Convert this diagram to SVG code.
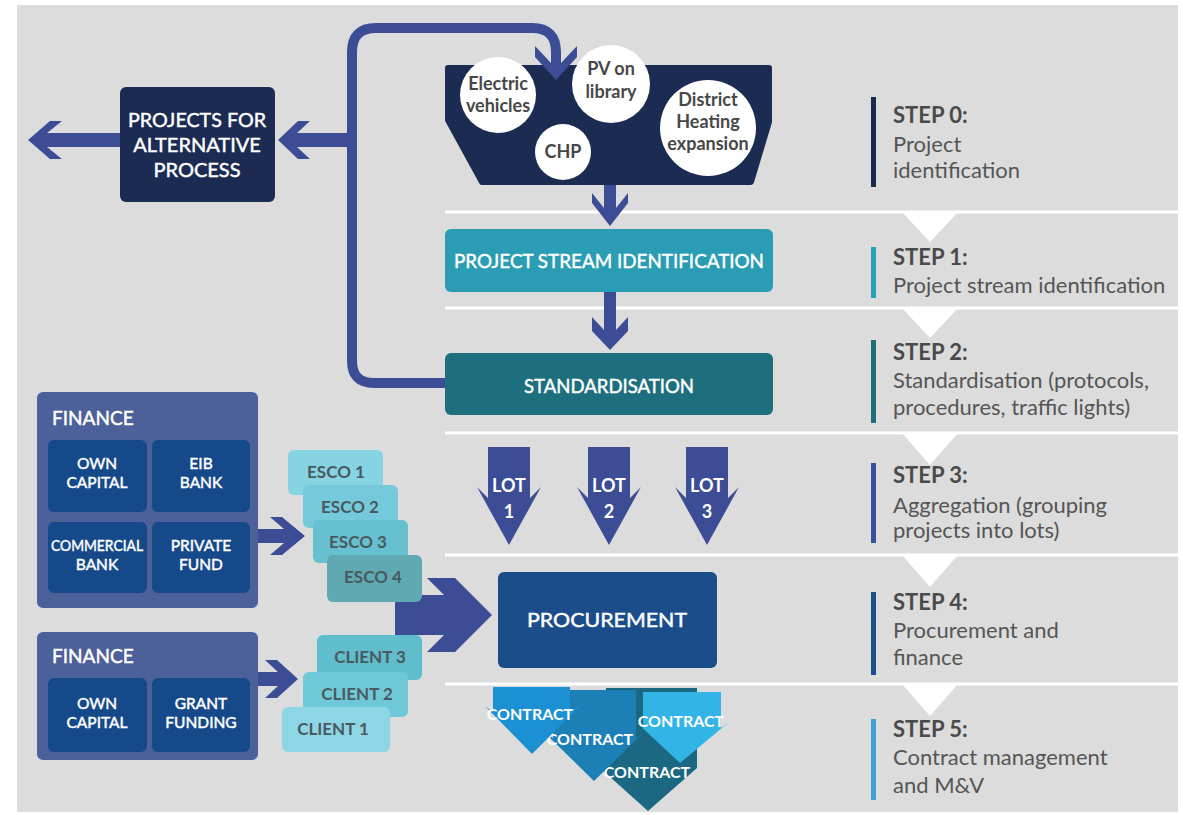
<svg xmlns="http://www.w3.org/2000/svg" width="1183" height="815" viewBox="0 0 1183 815">
  <style>
    text { font-family: "Lato", "Liberation Sans", sans-serif; }
    .arrow { fill: #3c4d95; }
    .loop { fill: none; stroke: #3c4d95; stroke-width: 10; }
    .sep { stroke: #ffffff; stroke-width: 3; }
    .tri { fill: #ffffff; }
    .lbl { fill: #ffffff; stroke: #ffffff; stroke-width: 0.45; font-size: 20px; text-anchor: middle; }
    .circ { fill: #ffffff; }
    .ctxt { fill: #474747; font-size: 18px; font-weight: bold; text-anchor: middle; }
    .stitle { fill: #4a4a4a; font-size: 22px; font-weight: bold; }
    .sdesc { fill: #555555; font-size: 22px; }
    .fin { fill: #4c6099; }
    .fin-in { fill: #15498a; }
    .fintxt { fill: #ffffff; stroke: #ffffff; stroke-width: 0.45; font-size: 15.5px; text-anchor: middle; }
    .fhead { fill: #ffffff; stroke: #ffffff; stroke-width: 0.45; font-size: 19px; }
    .card { fill: #4a5960; font-size: 17px; font-weight: bold; text-anchor: middle; }
    .lot { fill: #ffffff; font-size: 18px; font-weight: bold; text-anchor: middle; }
    .ctr { fill: #ffffff; font-size: 16px; font-weight: bold; text-anchor: middle; }
  </style>

  <!-- canvas -->
  <rect x="0" y="0" width="1183" height="815" fill="#ffffff"/>
  <rect x="17" y="5" width="1161" height="807" fill="#dcdcdc"/>

  <!-- step separators -->
  <g id="separators">
    <line class="sep" x1="445" y1="212" x2="1178" y2="212"/>
    <line class="sep" x1="445" y1="308" x2="1178" y2="308"/>
    <line class="sep" x1="445" y1="433" x2="1178" y2="433"/>
    <line class="sep" x1="445" y1="555" x2="1178" y2="555"/>
    <line class="sep" x1="445" y1="684" x2="1178" y2="684"/>
    <polygon class="tri" points="902,212 958,212 930,242"/>
    <polygon class="tri" points="902,308 958,308 930,338"/>
    <polygon class="tri" points="902,433 958,433 930,465"/>
    <polygon class="tri" points="902,555 958,555 930,587"/>
    <polygon class="tri" points="902,684 958,684 930,716"/>
  </g>

  <!-- step captions -->
  <g id="step0">
    <rect x="871" y="97" width="5" height="90" fill="#1a2a4e"/>
    <text class="stitle" x="893" y="123">STEP 0:</text>
    <text class="sdesc" x="893" y="152">Project</text>
    <text class="sdesc" x="893" y="178">identification</text>
  </g>
  <g id="step1">
    <rect x="871" y="247" width="5" height="51" fill="#2aa0b8"/>
    <text class="stitle" x="893" y="265">STEP 1:</text>
    <text class="sdesc" x="893" y="293">Project stream identification</text>
  </g>
  <g id="step2">
    <rect x="871" y="340" width="5" height="83" fill="#1f6e78"/>
    <text class="stitle" x="893" y="360">STEP 2:</text>
    <text class="sdesc" x="893" y="388">Standardisation (protocols,</text>
    <text class="sdesc" x="893" y="415">procedures, traffic lights)</text>
  </g>
  <g id="step3">
    <rect x="871" y="463" width="5" height="80" fill="#3a4f9a"/>
    <text class="stitle" x="893" y="483">STEP 3:</text>
    <text class="sdesc" x="893" y="513">Aggregation (grouping</text>
    <text class="sdesc" x="893" y="538">projects into lots)</text>
  </g>
  <g id="step4">
    <rect x="871" y="592" width="5" height="83" fill="#1b4f8c"/>
    <text class="stitle" x="893" y="610">STEP 4:</text>
    <text class="sdesc" x="893" y="638">Procurement and</text>
    <text class="sdesc" x="893" y="665">finance</text>
  </g>
  <g id="step5">
    <rect x="871" y="719" width="5" height="81" fill="#3aa0d8"/>
    <text class="stitle" x="893" y="737">STEP 5:</text>
    <text class="sdesc" x="893" y="765">Contract management</text>
    <text class="sdesc" x="893" y="793">and M&amp;V</text>
  </g>

  <!-- project pool -->
  <g id="project-pool">
    <polygon points="448,68 769,68 769,122 751,182 482,182 448,120" fill="#1b2b52" stroke="#1b2b52" stroke-width="6" stroke-linejoin="round"/>
    <circle class="circ" cx="498" cy="95" r="38"/>
    <text class="ctxt" x="498" y="90">Electric</text>
    <text class="ctxt" x="498" y="112">vehicles</text>
    <circle class="circ" cx="611" cy="84" r="39"/>
    <text class="ctxt" x="611" y="75">PV on</text>
    <text class="ctxt" x="611" y="98">library</text>
    <circle class="circ" cx="563" cy="152" r="28"/>
    <text class="ctxt" x="563" y="158">CHP</text>
    <circle class="circ" cx="708" cy="128" r="48"/>
    <text class="ctxt" x="708" y="106">District</text>
    <text class="ctxt" x="708" y="128">Heating</text>
    <text class="ctxt" x="708" y="150">expansion</text>
  </g>

  <!-- connectors -->
  <g id="connectors">
    <!-- return loop from standardisation back to the pool -->
    <path class="loop" d="M445 383 H374 Q352 383 352 361 V52 Q352 28 376 28 H532 Q556 28 556 52 V64"/>
    <polygon class="arrow" points="535,46 551,63 561,63 577,46 577,57 556,80 535,57"/>
    <!-- branch to alternative process -->
    <polygon class="arrow" points="278,140 298,121 310,121 297,133 352,133 352,147 297,147 310,159 298,159"/>
    <!-- out of alternative process -->
    <polygon class="arrow" points="28,140 50,121 62,121 47,133 120,133 120,147 47,147 62,159 50,159"/>
    <!-- pool to project stream -->
    <polygon class="arrow" points="592,193 604,208 604,185 616,185 616,208 628,193 628,203 610,226 592,203"/>
    <!-- project stream to standardisation -->
    <polygon class="arrow" points="592,317 604,330 604,292 616,292 616,330 628,317 628,331 610,350 592,331"/>
    <!-- finance to ESCOs -->
    <polygon class="arrow" points="258,529 284,529 270,517 282,517 305,536 282,555 270,555 284,543 258,543"/>
    <!-- finance to clients -->
    <polygon class="arrow" points="258,672 278,672 265,660 277,660 298,679 277,698 265,698 278,686 258,686"/>
    <!-- suppliers to procurement -->
    <polygon class="arrow" points="395,595 444,595 427,578 455,578 492,615 455,652 427,652 444,635 395,635"/>
  </g>

  <!-- alternative process -->
  <g id="alternative-process">
    <rect x="120" y="87" width="155" height="115" rx="6" fill="#1b2b52"/>
    <text class="lbl" x="197" y="127" textLength="138" lengthAdjust="spacingAndGlyphs">PROJECTS FOR</text>
    <text class="lbl" x="197" y="152">ALTERNATIVE</text>
    <text class="lbl" x="197" y="177">PROCESS</text>
  </g>

  <!-- project stream identification -->
  <g id="project-stream">
    <rect x="445" y="229" width="328" height="63" rx="6" fill="#2a9cb3"/>
    <text class="lbl" x="609" y="268" textLength="310" lengthAdjust="spacingAndGlyphs">PROJECT STREAM IDENTIFICATION</text>
  </g>

  <!-- standardisation -->
  <g id="standardisation">
    <rect x="445" y="353" width="328" height="62" rx="6" fill="#1e6f7d"/>
    <text class="lbl" x="609" y="393" textLength="170" lengthAdjust="spacingAndGlyphs">STANDARDISATION</text>
  </g>

  <!-- lots -->
  <g id="lot1">
    <polygon class="arrow" points="488,447 530,447 530,498 541,487 509,545 477,487 488,498"/>
    <text class="lot" x="509" y="492">LOT</text>
    <text class="lot" x="509" y="518">1</text>
  </g>
  <g id="lot2">
    <polygon class="arrow" points="588,447 630,447 630,498 641,487 609,545 577,487 588,498"/>
    <text class="lot" x="609" y="492">LOT</text>
    <text class="lot" x="609" y="518">2</text>
  </g>
  <g id="lot3">
    <polygon class="arrow" points="686,447 728,447 728,498 739,487 707,545 675,487 686,498"/>
    <text class="lot" x="707" y="492">LOT</text>
    <text class="lot" x="707" y="518">3</text>
  </g>

  <!-- procurement -->
  <g id="procurement">
    <rect x="498" y="572" width="219" height="96" rx="6" fill="#1a4d8a"/>
    <text class="lbl" x="607" y="627" textLength="160" lengthAdjust="spacingAndGlyphs">PROCUREMENT</text>
  </g>

  <!-- finance for ESCOs -->
  <g id="finance-esco">
    <rect class="fin" x="37" y="392" width="221" height="216" rx="6"/>
    <text class="fhead" x="52" y="425">FINANCE</text>
    <rect class="fin-in" x="48" y="440" width="99" height="72" rx="6"/>
    <text class="fintxt" x="97" y="469">OWN</text>
    <text class="fintxt" x="97" y="488">CAPITAL</text>
    <rect class="fin-in" x="152" y="440" width="98" height="72" rx="6"/>
    <text class="fintxt" x="201" y="469">EIB</text>
    <text class="fintxt" x="201" y="488">BANK</text>
    <rect class="fin-in" x="48" y="522" width="99" height="71" rx="6"/>
    <text class="fintxt" x="97" y="551" textLength="92" lengthAdjust="spacingAndGlyphs">COMMERCIAL</text>
    <text class="fintxt" x="97" y="570">BANK</text>
    <rect class="fin-in" x="152" y="522" width="98" height="71" rx="6"/>
    <text class="fintxt" x="201" y="551">PRIVATE</text>
    <text class="fintxt" x="201" y="570">FUND</text>
  </g>

  <!-- ESCOs -->
  <g id="esco1">
    <rect x="288" y="450" width="95" height="45" rx="6" fill="#86d3e2"/>
    <text class="card" x="336" y="478">ESCO 1</text>
  </g>
  <g id="esco2">
    <rect x="303" y="485" width="95" height="43" rx="6" fill="#74cadb"/>
    <text class="card" x="350" y="513">ESCO 2</text>
  </g>
  <g id="esco3">
    <rect x="313" y="520" width="95" height="43" rx="6" fill="#66c0d0"/>
    <text class="card" x="358" y="548">ESCO 3</text>
  </g>
  <g id="esco4">
    <rect x="327" y="555" width="95" height="47" rx="6" fill="#5fa9b2"/>
    <text class="card" x="373" y="583">ESCO 4</text>
  </g>

  <!-- finance for clients -->
  <g id="finance-client">
    <rect class="fin" x="37" y="632" width="221" height="128" rx="6"/>
    <text class="fhead" x="52" y="663">FINANCE</text>
    <rect class="fin-in" x="48" y="678" width="99" height="74" rx="6"/>
    <text class="fintxt" x="97" y="709">OWN</text>
    <text class="fintxt" x="97" y="728">CAPITAL</text>
    <rect class="fin-in" x="152" y="678" width="98" height="74" rx="6"/>
    <text class="fintxt" x="201" y="709">GRANT</text>
    <text class="fintxt" x="201" y="728">FUNDING</text>
  </g>

  <!-- clients -->
  <g id="client3">
    <rect x="317" y="635" width="105" height="45" rx="6" fill="#5fbdcc"/>
    <text class="card" x="370" y="663">CLIENT 3</text>
  </g>
  <g id="client2">
    <rect x="303" y="672" width="105" height="45" rx="6" fill="#6fc8d8"/>
    <text class="card" x="357" y="700">CLIENT 2</text>
  </g>
  <g id="client1">
    <rect x="282" y="707" width="108" height="45" rx="6" fill="#8dd6e5"/>
    <text class="card" x="333" y="735">CLIENT 1</text>
  </g>

  <!-- contracts -->
  <g id="contract3">
    <polygon points="606,688 697,688 697,768 648,811 600,768 606,768" fill="#1b6883"/>
    <text class="ctr" x="647" y="778">CONTRACT</text>
  </g>
  <g id="contract2">
    <polygon points="553,690 636,690 636,738 643,733 594,781 545,733 553,738" fill="#1c7fb6"/>
    <text class="ctr" x="590" y="745">CONTRACT</text>
  </g>
  <g id="contract1">
    <polygon points="493,687 570,687 570,712 580,706 532,754 485,706 493,712" fill="#1b90d3"/>
    <text class="ctr" x="530" y="720">CONTRACT</text>
  </g>
  <g id="contract4">
    <polygon points="643,692 721,692 721,728 729,722 680,763 636,722 643,728" fill="#33b4e6"/>
    <text class="ctr" x="681" y="727">CONTRACT</text>
  </g>
</svg>
